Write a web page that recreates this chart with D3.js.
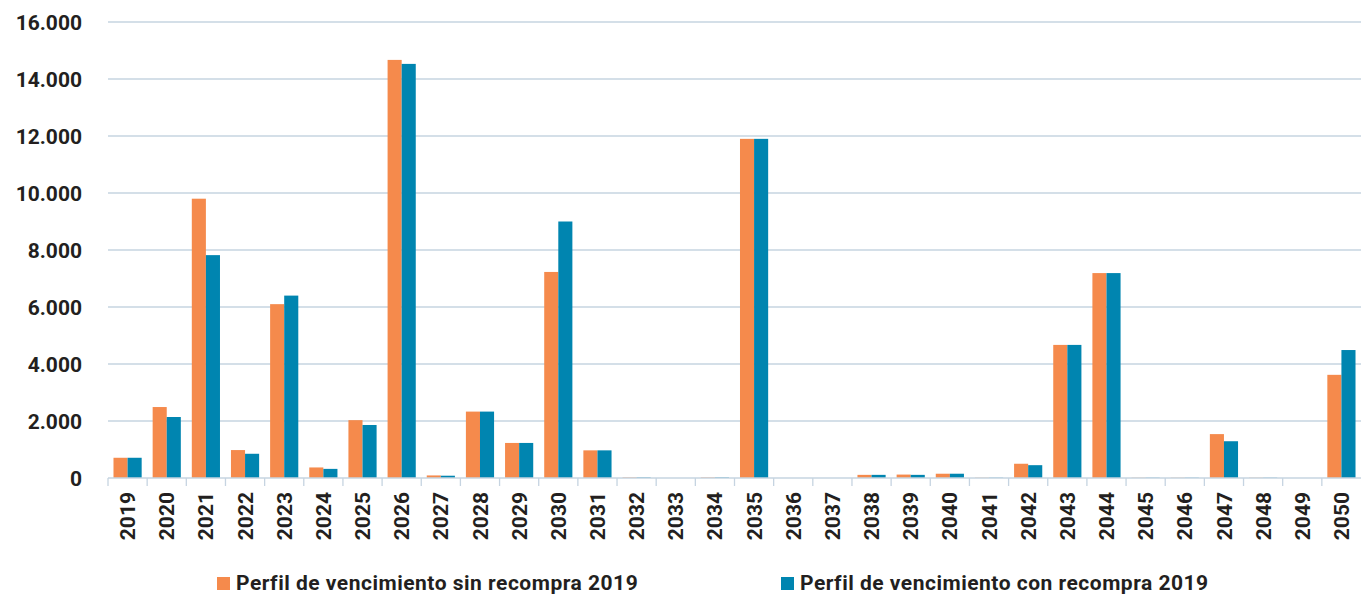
<!DOCTYPE html>
<html>
<head>
<meta charset="utf-8">
<script src="https://cdn.jsdelivr.net/npm/d3@7"></script>
<style>
  body { margin: 0; background: #fff; }
  text { font-family: Roboto, "DejaVu Sans", sans-serif; font-weight: 700; fill: #231f20; }
</style>
</head>
<body>
<div id="chart"></div>
<script>
var years = ["2019","2020","2021","2022","2023","2024","2025","2026","2027","2028","2029","2030","2031","2032","2033","2034","2035","2036","2037","2038","2039","2040","2041","2042","2043","2044","2045","2046","2047","2048","2049","2050"];
var sinRecompra = [710,2490,9800,980,6100,370,2030,14670,90,2330,1230,7230,970,20,0,20,11900,0,0,110,120,150,10,500,4670,7190,10,10,1540,10,0,3620];
var conRecompra = [710,2140,7820,850,6400,320,1860,14530,80,2330,1230,9000,970,20,0,20,11900,0,0,110,110,150,10,450,4670,7190,10,10,1290,10,0,4490];
var yTicks = [0,2000,4000,6000,8000,10000,12000,14000,16000];
var seriesNames = ["Perfil de vencimiento sin recompra 2019", "Perfil de vencimiento con recompra 2019"];
var colors = ["#f58a4c", "#0085b0"];

var width = 1361, height = 594;
var margin = {left: 108, right: 0, top: 22, bottom: 116};

var svg = d3.select("#chart").append("svg")
  .attr("width", width)
  .attr("height", height);

var x = d3.scaleBand().domain(years).range([margin.left, width - margin.right]);
var x1 = d3.scaleBand().domain([0, 1]).range([0, x.bandwidth()]).paddingInner(0).paddingOuter(0.39);
var y = d3.scaleLinear().domain([0, 16000]).range([height - margin.bottom, margin.top]);

var fmt = function(d) { return d3.format(",")(d).replace(/,/g, "."); };

// grid lines
svg.append("g").selectAll("line").data(yTicks.slice(1)).enter().append("line")
  .attr("x1", margin.left).attr("x2", width - margin.right)
  .attr("y1", function(d) { return y(d); }).attr("y2", function(d) { return y(d); })
  .attr("stroke", "#c6d4e1").attr("stroke-width", 1.3);

// y labels
svg.append("g").selectAll("text").data(yTicks).enter().append("text")
  .attr("x", 82).attr("y", function(d) { return y(d); })
  .attr("dy", "0.36em")
  .attr("text-anchor", "end")
  .style("font-size", "21px")
  .text(fmt);

// bars
var data = years.map(function(yr, i) { return {year: yr, vals: [sinRecompra[i], conRecompra[i]]}; });
var groups = svg.append("g").selectAll("g").data(data).enter().append("g")
  .attr("transform", function(d) { return "translate(" + x(d.year) + ",0)"; });
groups.selectAll("rect").data(function(d) { return d.vals; }).enter().append("rect")
  .attr("x", function(d, i) { return x1(i); })
  .attr("width", x1.bandwidth())
  .attr("y", function(d) { return y(d); })
  .attr("height", function(d) { return y(0) - y(d); })
  .attr("fill", function(d, i) { return colors[i]; });

// x axis
var ax = svg.append("g").attr("transform", "translate(0," + y(0) + ")");
ax.append("line").attr("x1", margin.left).attr("x2", width).attr("stroke", "#c6d4e1").attr("stroke-width", 1.3);
ax.selectAll(".tk").data(years).enter().append("line")
  .attr("x1", function(d) { return x(d); }).attr("x2", function(d) { return x(d); })
  .attr("y1", 0).attr("y2", 8)
  .attr("stroke", "#c6d4e1").attr("stroke-width", 1.3);
ax.selectAll(".lbl").data(years).enter().append("text")
  .attr("transform", function(d) { return "translate(" + (x(d) + x.bandwidth() / 2) + ",14) rotate(-90)"; })
  .attr("text-anchor", "end")
  .attr("dy", "0.36em")
  .style("font-size", "21px")
  .text(function(d) { return d; });

// legend
var legX = [217, 781];
var leg = svg.append("g").selectAll("g").data(seriesNames).enter().append("g")
  .attr("transform", function(d, i) { return "translate(" + legX[i] + ",577)"; });
leg.append("rect").attr("width", 13).attr("height", 13).attr("fill", function(d, i) { return colors[i]; });
leg.append("text").attr("x", 19).attr("y", 12.5)
  .style("font-size", "21px").style("letter-spacing", "0.5px")
  .text(function(d) { return d; });
</script>
</body>
</html>
